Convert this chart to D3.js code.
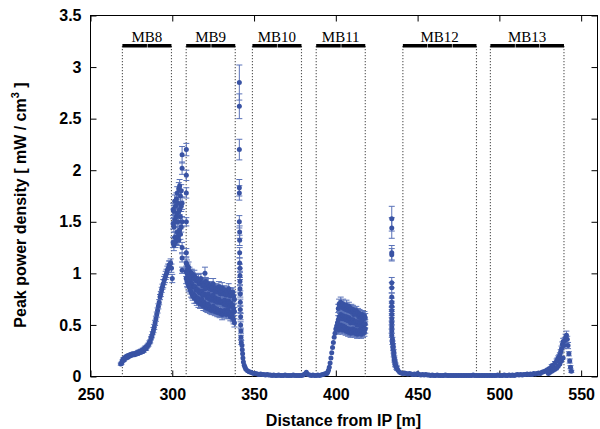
<!DOCTYPE html>
<html>
<head>
<meta charset="utf-8">
<script src="https://cdn.jsdelivr.net/npm/d3@7"></script>
<style>
	body { margin: 0; background: #fff; }
	svg { display: block; font-family: "Liberation Sans", Arial, sans-serif; }
	.labels .tick text { font-size: 16px; font-weight: bold; fill: #000; }
	.labels .tick line { stroke: #000; }
	.labels__text { font-size: 16px; font-weight: bold; fill: #000; }
	.magnet__text { font-family: "Liberation Serif", serif; font-size: 15px; fill: #000; }
</style>
</head>
<body>
<svg></svg>
<script>
// tick labels
const xTicks = [250, 300, 350, 400, 450, 500, 550];
const yTicks = [0, 0.5, 1, 1.5, 2, 2.5, 3, 3.5];
const yTickLabels = ['0', '0.5', '1', '1.5', '2', '2.5', '3', '3.5'];

// dipole magnets drawn along the top
const magnets = ['MB8', 'MB9', 'MB10', 'MB11', 'MB12', 'MB13'];
const magnetStart = [269.5, 308.5, 349, 388, 441, 494.5];
const magnetEnd = [299.5, 338.5, 379, 418, 486, 539.5];
const magnetParts = [2, 2, 2, 2, 3, 3];

// MB8 rise
const mb8Pos = [268.5,269,269.5,270,270.5,271,271.5,272,272.5,273,273.5,274,274.5,275,275.5,276,276.5,277,277.5,278,278.5,279,279.5,280,280.5,281,281.5,282,282.5,283,283.5,284,284.5,285,285.5,286,286.5,287,287.5,288,288.5,289,289.5,290,290.5,291,291.5,292,292.5,293,293.5,294,294.5,295,295.5,296,296.5,297,297.5,298,298.5,299,299.5,300];
const mb8Val = [0.12,0.13,0.15,0.17,0.16,0.18,0.19,0.18,0.2,0.19,0.2,0.21,0.2,0.21,0.22,0.21,0.22,0.21,0.22,0.23,0.22,0.23,0.24,0.23,0.24,0.25,0.24,0.26,0.25,0.27,0.28,0.27,0.29,0.3,0.31,0.33,0.34,0.37,0.39,0.42,0.45,0.48,0.52,0.56,0.6,0.64,0.68,0.72,0.77,0.8,0.84,0.87,0.9,0.93,0.95,0.98,1.0,1.03,1.05,1.08,1.08,1.1,1.05,0.95];
const mb8Err = [0.01,0.01,0.01,0.01,0.01,0.01,0.01,0.01,0.01,0.01,0.01,0.01,0.01,0.01,0.01,0.01,0.01,0.01,0.01,0.01,0.015,0.015,0.015,0.015,0.015,0.015,0.015,0.015,0.015,0.015,0.015,0.015,0.015,0.015,0.015,0.015,0.015,0.015,0.015,0.015,0.025,0.025,0.025,0.025,0.025,0.025,0.025,0.025,0.025,0.025,0.025,0.025,0.04,0.04,0.04,0.04,0.04,0.04,0.04,0.04,0.04,0.04,0.04,0.04];

// cluster between MB8 and MB9
const gapPos = [300.5,300.5,300.5,301,301,301,301.5,301.5,301.5,302,302,302,302.5,302.5,302.5,303,303,303,303.5,303.5,303.5,304,304,304,304.5,304.5,304.5,305,305,305,305.5,305.5,305.5,306,306,306];
const gapVal = [1.3,1.48,1.62,1.27,1.45,1.6,1.35,1.52,1.7,1.3,1.5,1.65,1.33,1.55,1.72,1.4,1.58,1.78,1.36,1.5,1.68,1.32,1.6,1.82,1.42,1.62,1.85,1.38,1.55,1.75,1.45,1.65,1.8,1.25,1.5,1.68];
const gapErr = [0.05,0.05,0.06,0.05,0.05,0.06,0.05,0.05,0.06,0.05,0.05,0.06,0.05,0.05,0.06,0.05,0.05,0.06,0.05,0.05,0.06,0.05,0.05,0.06,0.05,0.05,0.06,0.05,0.05,0.06,0.05,0.05,0.06,0.05,0.05,0.06];
const outPos = [306,306,306,306,308.6,308.6,308.6,308.6,308.6];
const outVal = [2.15,2.02,1.15,1.03,2.2,1.95,1.78,1.5,1.2];
const outErr = [0.08,0.06,0.04,0.03,0.06,0.05,0.05,0.04,0.04];

// MB9 band
const mb9Pos = [308.5,309,309.5,310,310.5,311,311.5,312,312.5,313,313.5,314,314.5,315,315.5,316,316.5,317,317.5,318,318.5,319,319.5,320,320.5,321,321.5,322,322.5,323,323.5,324,324.5,325,325.5,326,326.5,327,327.5,328,328.5,329,329.5,330,330.5,331,331.5,332,332.5,333,333.5,334,334.5,335,335.5,336,336.5,337,337.5,338];
const mb9Upper = [1.1,1.08,1.05,1.06,1.02,1.0,0.98,1.0,0.97,0.95,0.98,0.96,0.93,0.95,0.92,0.94,0.9,0.92,0.95,0.9,0.88,0.91,0.89,1.0,0.92,0.88,0.86,0.9,0.87,0.85,0.88,0.84,0.86,0.9,0.85,0.83,0.86,0.84,0.82,0.85,0.87,0.84,0.8,0.83,0.86,0.82,0.8,0.84,0.81,0.79,0.83,0.8,0.85,0.82,0.78,0.81,0.79,0.82,0.78,0.75];
const mb9Mid = [1.02,1.0,0.97,0.97,0.94,0.92,0.9,0.9,0.87,0.87,0.87,0.87,0.84,0.84,0.84,0.83,0.82,0.81,0.83,0.82,0.79,0.79,0.8,0.85,0.79,0.78,0.76,0.8,0.77,0.75,0.77,0.74,0.76,0.79,0.75,0.73,0.76,0.74,0.72,0.75,0.75,0.72,0.72,0.72,0.73,0.72,0.7,0.74,0.71,0.69,0.73,0.72,0.73,0.71,0.68,0.71,0.69,0.69,0.66,0.63];
const mb9Lower = [0.95,0.92,0.9,0.88,0.86,0.84,0.82,0.8,0.78,0.8,0.76,0.78,0.75,0.73,0.76,0.72,0.74,0.7,0.72,0.75,0.7,0.68,0.72,0.7,0.67,0.69,0.66,0.7,0.68,0.65,0.67,0.64,0.66,0.68,0.65,0.63,0.66,0.64,0.62,0.65,0.63,0.61,0.64,0.62,0.6,0.63,0.61,0.64,0.62,0.6,0.63,0.65,0.62,0.6,0.58,0.62,0.6,0.57,0.55,0.52];
const mb9Err = [0.05,0.05,0.04,0.05,0.04,0.04,0.05,0.04,0.04,0.04,0.05,0.04,0.04,0.04,0.04,0.05,0.04,0.04,0.05,0.04,0.04,0.04,0.04,0.06,0.04,0.04,0.04,0.05,0.04,0.04,0.04,0.04,0.04,0.05,0.04,0.04,0.04,0.04,0.04,0.04,0.05,0.04,0.04,0.04,0.05,0.04,0.04,0.04,0.04,0.04,0.04,0.04,0.05,0.04,0.04,0.04,0.04,0.04,0.04,0.04];

// spike at the MB9 exit and its decay
const spikePos = [341,341,341,341,341,341,341.2,341.2,341.2,341.2,341.4,341.4,341.4,341.4,341.6,341.6,341.6,341.8,341.8,342,342,342.2];
const spikeVal = [2.85,2.62,2.2,1.83,1.78,1.5,1.4,1.32,1.2,1.1,1.05,0.98,0.92,0.85,0.8,0.72,0.65,0.58,0.5,0.44,0.38,0.33];
const spikeErr = [0.17,0.12,0.1,0.08,0.07,0.06,0.06,0.05,0.05,0.05,0.04,0.04,0.04,0.04,0.03,0.03,0.03,0.03,0.03,0.02,0.02,0.02];
const decayPos = [342.6,342.8,343,343.2,343.5,344,344.5,345,346,347,348,349,350];
const decayVal = [0.3,0.26,0.22,0.18,0.14,0.11,0.09,0.07,0.055,0.045,0.04,0.035,0.03];

// low plateau MB10
const flat1Pos = [351,352,353,354,355,356,357,358,359,360,361,362,363,364,365,366,367,368,369,370,371,372,373,374,375,376,377,378,379,380,381,382,383,384,385,386,387,388,389,390,391,392,393,394];
const flat1Val = [0.03,0.025,0.02,0.025,0.02,0.02,0.015,0.02,0.015,0.015,0.01,0.015,0.01,0.01,0.015,0.01,0.01,0.01,0.015,0.01,0.01,0.01,0.01,0.015,0.01,0.01,0.01,0.01,0.01,0.015,0.025,0.04,0.02,0.015,0.01,0.015,0.01,0.01,0.015,0.01,0.015,0.02,0.025,0.03];

// MB11 rise and band
const risePos = [394.5,395,395.5,396,396.5,397,397.5,398,398.5,399,399.5,400,400.5,401];
const riseVal = [0.03,0.04,0.06,0.09,0.13,0.18,0.23,0.28,0.33,0.38,0.42,0.46,0.49,0.52];
const mb11Pos = [401.5,402,402.5,403,403.5,404,404.5,405,405.5,406,406.5,407,407.5,408,408.5,409,409.5,410,410.5,411,411.5,412,412.5,413,413.5,414,414.5,415,415.5,416,416.5,417,417.5,418];
const mb11Upper = [0.66,0.7,0.68,0.72,0.69,0.67,0.7,0.66,0.68,0.65,0.69,0.66,0.64,0.68,0.65,0.63,0.66,0.62,0.65,0.6,0.63,0.61,0.64,0.6,0.62,0.58,0.61,0.6,0.57,0.6,0.58,0.56,0.59,0.57];
const mb11Mid = [0.55,0.58,0.57,0.6,0.58,0.56,0.59,0.56,0.58,0.55,0.58,0.55,0.54,0.57,0.55,0.52,0.55,0.53,0.55,0.52,0.52,0.53,0.53,0.5,0.53,0.5,0.53,0.51,0.49,0.52,0.5,0.5,0.51,0.51];
const mb11Lower = [0.45,0.48,0.46,0.5,0.47,0.45,0.49,0.46,0.48,0.44,0.47,0.45,0.43,0.46,0.44,0.42,0.45,0.43,0.46,0.44,0.42,0.45,0.43,0.41,0.44,0.42,0.45,0.43,0.41,0.44,0.42,0.45,0.43,0.46];
const mb11Err = [0.04,0.05,0.04,0.05,0.04,0.04,0.05,0.04,0.04,0.04,0.05,0.04,0.04,0.04,0.04,0.04,0.04,0.04,0.04,0.04,0.04,0.04,0.04,0.04,0.04,0.04,0.04,0.04,0.04,0.04,0.04,0.04,0.04,0.04];

// spike before MB12
const kickPos = [434.2,434.2,434.2,434.2,434.2,434.2,434.2,434.2,434.2,434.2,434.2,434.2,434.2,434.2,434.2,434.2,434.6,434.6,435,435,435.4,435.4,435.8,435.8,436.2,436.2,436.6,437,437.4];
const kickVal = [1.53,1.44,1.2,1.18,0.91,0.86,0.77,0.72,0.68,0.64,0.6,0.56,0.52,0.48,0.44,0.4,0.36,0.33,0.3,0.27,0.24,0.21,0.18,0.16,0.14,0.12,0.11,0.09,0.08];
const kickErr = [0.12,0.1,0.07,0.06,0.05,0.05,0.04,0.04,0.03,0.03,0.03,0.03,0.02,0.02,0.02,0.02,0.02,0.02,0.02,0.02,0.02,0.02,0.02,0.02,0.02,0.02,0.02,0.02,0.02];

// low plateau MB12 / MB13
const flat2Pos = [438,439,440,441,442,443,444,445,446,447,448,449,450,451,452,453,454,455,456,457,458,459,460,461,462,463,464,465,466,467,468,469,470,471,472,473,474,475,476,477,478,479,480,481,482,483,484,485,486,487,488,489,490,491,492,493,494,495,496,497,498,499,500,501,502,503,504,505,506,507,508,509,510,511,512,513,514,515,516,517,518,519,520,521,522,523,524,525,526,527];
const flat2Val = [0.06,0.04,0.035,0.03,0.035,0.03,0.025,0.03,0.025,0.02,0.025,0.02,0.03,0.02,0.015,0.02,0.015,0.02,0.015,0.015,0.01,0.015,0.01,0.01,0.015,0.01,0.01,0.01,0.01,0.015,0.01,0.01,0.01,0.01,0.01,0.01,0.01,0.01,0.01,0.01,0.01,0.01,0.01,0.01,0.01,0.01,0.015,0.01,0.01,0.01,0.01,0.01,0.01,0.01,0.01,0.01,0.01,0.01,0.01,0.01,0.01,0.015,0.01,0.01,0.01,0.015,0.01,0.01,0.015,0.01,0.015,0.01,0.015,0.02,0.015,0.02,0.015,0.02,0.02,0.025,0.02,0.025,0.02,0.03,0.025,0.03,0.035,0.03,0.04,0.045];

// MB13 exit peak
const mb13Pos = [528,529,530,531,532,533,534,535,535.5,536,536.5,537,537.5,538,538.5,539,539.5,540,540.5,541,541.5,542,542.5,543,543.5,544];
const mb13Val = [0.05,0.06,0.07,0.08,0.1,0.11,0.13,0.15,0.16,0.18,0.19,0.21,0.24,0.27,0.31,0.34,0.3,0.35,0.38,0.4,0.36,0.3,0.22,0.15,0.09,0.05];
const mb13Err = [0.01,0.01,0.01,0.01,0.015,0.015,0.015,0.02,0.02,0.02,0.02,0.02,0.02,0.025,0.025,0.03,0.03,0.03,0.03,0.04,0.03,0.03,0.02,0.02,0.015,0.01];
const mb13LowPos = [530,531,532,533,534,535,536,537,538,539];
const mb13LowVal = [0.03,0.04,0.05,0.06,0.07,0.08,0.1,0.12,0.15,0.18];

const series = [
	[mb8Pos, mb8Val, mb8Err],
	[gapPos, gapVal, gapErr],
	[outPos, outVal, outErr],
	[mb9Pos, mb9Upper, mb9Err],
	[mb9Pos, mb9Mid, mb9Err],
	[mb9Pos, mb9Lower, mb9Err],
	[spikePos, spikeVal, spikeErr],
	[decayPos, decayVal, null],
	[flat1Pos, flat1Val, null],
	[risePos, riseVal, null],
	[mb11Pos, mb11Upper, mb11Err],
	[mb11Pos, mb11Mid, mb11Err],
	[mb11Pos, mb11Lower, mb11Err],
	[kickPos, kickVal, kickErr],
	[flat2Pos, flat2Val, null],
	[mb13Pos, mb13Val, mb13Err],
	[mb13LowPos, mb13LowVal, null]
];

const data = [];
series.forEach(([pos, val, err]) => {
	pos.forEach((p, i) => data.push({ x: p, y: val[i], e: err ? err[i] : 0 }));
});

render(data);

function render(data) {
	const width = 600;
	const height = 429;
	const margin = { top: 15, right: 3, bottom: 53, left: 90 };
	const innerWidth = width - margin.left - margin.right;
	const innerHeight = height - margin.top - margin.bottom;
	const blue = '#3953a4';

	const svg = d3.select('svg')
		.attr('width', width)
		.attr('height', height);

	const xScale = d3.scaleLinear()
		.domain([250, 560])
		.range([0, innerWidth]);

	const yScale = d3.scaleLinear()
		.domain([0, 3.5])
		.range([innerHeight, 0]);

	const g = svg.append('g')
		.attr('transform', `translate(${margin.left + 0.5},${margin.top + 0.5})`);

	// axes, ticks pointing inwards on all four sides
	const xAxisGroup = g.append('g')
		.attr('class', 'labels')
		.attr('transform', `translate(0,${innerHeight})`)
		.call(d3.axisBottom(xScale).tickValues(xTicks).tickSize(-6).tickPadding(12));
	const yAxisGroup = g.append('g')
		.attr('class', 'labels')
		.call(d3.axisLeft(yScale).tickValues(yTicks)
			.tickFormat((d, i) => yTickLabels[i]).tickSize(-6).tickPadding(9));
	g.append('g')
		.attr('class', 'labels')
		.call(d3.axisTop(xScale).tickValues(xTicks).tickSize(-6).tickFormat(''));
	g.append('g')
		.attr('class', 'labels')
		.attr('transform', `translate(${innerWidth},0)`)
		.call(d3.axisRight(yScale).tickValues(yTicks).tickSize(-6).tickFormat(''));
	g.selectAll('.domain').remove();

	g.append('rect')
		.attr('width', innerWidth)
		.attr('height', innerHeight)
		.attr('fill', 'none')
		.attr('stroke', '#000');

	// magnets
	const barY = 30.5;
	magnets.forEach((name, i) => {
		const x0 = xScale(magnetStart[i]);
		const x1 = xScale(magnetEnd[i]);
		[x0, x1].forEach(x => {
			g.append('line')
				.attr('x1', x).attr('x2', x)
				.attr('y1', barY).attr('y2', innerHeight)
				.attr('stroke', '#555')
				.attr('stroke-width', 1.1)
				.attr('stroke-dasharray', '1.2,1.8');
		});
		const step = (x1 - x0) / magnetParts[i];
		for (let k = 0; k < magnetParts[i]; k++) {
			g.append('rect')
				.attr('x', x0 + k * step + (k > 0 ? 0.6 : 0))
				.attr('y', barY - 2)
				.attr('width', step - (k > 0 ? 0.6 : 0))
				.attr('height', 3.5)
				.attr('fill', '#000');
		}
		g.append('text')
			.attr('class', 'magnet__text')
			.attr('x', (x0 + x1) / 2)
			.attr('y', barY - 4)
			.attr('text-anchor', 'middle')
			.text(name);
	});

	// error bars
	const bars = g.append('g')
		.attr('stroke', '#5a72b8')
		.attr('stroke-width', 1);
	data.filter(d => d.e > 0).forEach(d => {
		const x = xScale(d.x);
		const yTop = yScale(d.y + d.e);
		const yBot = yScale(Math.max(0, d.y - d.e));
		bars.append('line').attr('x1', x).attr('x2', x).attr('y1', yTop).attr('y2', yBot);
		bars.append('line').attr('x1', x - 3).attr('x2', x + 3).attr('y1', yTop).attr('y2', yTop);
		bars.append('line').attr('x1', x - 3).attr('x2', x + 3).attr('y1', yBot).attr('y2', yBot);
	});

	g.append('g')
		.selectAll('circle')
		.data(data)
		.enter().append('circle')
		.attr('cx', d => xScale(d.x))
		.attr('cy', d => yScale(d.y))
		.attr('r', 2.5)
		.attr('fill', blue);

	// axis titles
	svg.append('text')
		.attr('class', 'labels__text')
		.attr('x', margin.left + innerWidth / 2)
		.attr('y', 426)
		.attr('text-anchor', 'middle')
		.text('Distance from IP [m]');

	const yTitle = svg.append('text')
		.attr('class', 'labels__text')
		.attr('transform', 'translate(26,205) rotate(-90)')
		.attr('text-anchor', 'middle');
	yTitle.append('tspan').text('Peak power density [ mW / cm');
	yTitle.append('tspan').attr('dy', -7).attr('font-size', 11).text('3');
	yTitle.append('tspan').attr('dy', 7).text(' ]');
}
</script>
</body>
</html>
